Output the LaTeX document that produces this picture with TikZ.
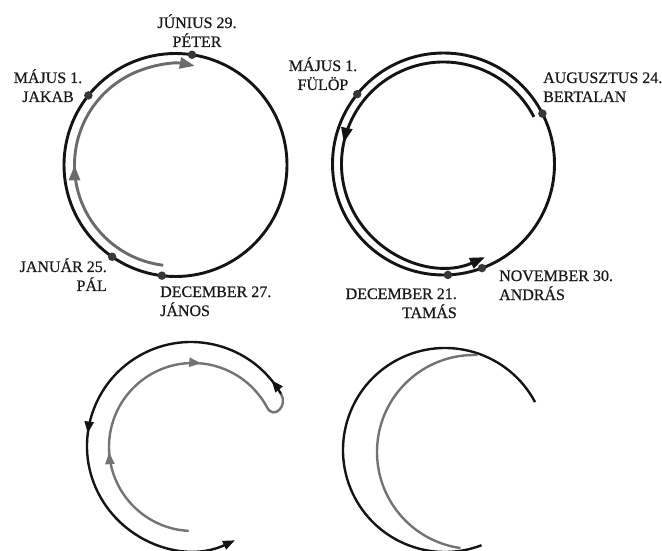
\documentclass[tikz,border=0pt]{standalone}
\usepackage{fontspec}
\setmainfont{Liberation Serif}
\newfontfamily\lblfont{Liberation Serif}[FakeBold=0.6]
\usetikzlibrary{arrows.meta, decorations.markings}

\tikzset{
    bigtip/.tip={Triangle[length=15pt,width=11pt]},
    smalltip/.tip={Triangle[length=12pt,width=9pt]},
    tipat/.style 2 args={postaction={decorate, decoration={markings, mark=at position #1 with {\arrow{#2}}}}}
}

\begin{document}
\begin{tikzpicture}[
    x=1pt, y=1pt,
    every node/.style={inner sep=0pt},
    lbl/.style={font=\lblfont\fontsize{16}{19}\selectfont, text=black!90},
    rim/.style={draw=black!92, line width=2.9pt},
    thinrim/.style={draw=black!92, line width=2.4pt},
    trail/.style={draw=black!58, line width=2.9pt},
    thintrail/.style={draw=black!55, line width=2.4pt},
    daydot/.style={circle, fill=black!78, minimum size=8.5pt}
]
\useasboundingbox (0,0) rectangle (662,550);

\coordinate (ca) at (175.5,385);
\coordinate (cb) at (443.5,386);
\coordinate (cc) at (191,104);
\coordinate (cg) at (193,103);
\coordinate (cd) at (445,100);
\coordinate (ch) at (474,98);

\draw[rim] (ca) circle[radius=111.5pt];
\draw[trail, -bigtip, tipat={0.45}{bigtip}] (ca) ++(263:101pt) arc[start angle=263, end angle=79, radius=101pt];
\path (ca) ++(81.5:111.5pt) node[daydot] (peter) {};
\path (ca) ++(141.4:111.5pt) node[daydot] (jakab) {};
\path (ca) ++(235.4:111.5pt) node[daydot] (pal) {};
\path (ca) ++(263:111.5pt) node[daydot] (janos) {};
\node[lbl, anchor=base, align=center] (peterlbl) at (197,503) {JÚNIUS 29.\\PÉTER};
\node[lbl, anchor=base, align=center] (jakablbl) at (48,448) {MÁJUS 1.\\JAKAB};
\node[lbl, anchor=base east, align=right] (pallbl) at (107,259) {JANUÁR 25.\\PÁL};
\node[lbl, anchor=base west, align=left] (janoslbl) at (160,234) {DECEMBER 27.\\JÁNOS};

\draw[rim] (cb) circle[radius=111pt];
\draw[rim, -bigtip, tipat={0.527}{bigtip}] (cb) ++(27.5:102pt) arc[start angle=27.5, end angle=294, radius=102pt];
\path (cb) ++(141:111pt) node[daydot] (fulop) {};
\path (cb) ++(27:111pt) node[daydot] (bertalan) {};
\path (cb) ++(290.3:111pt) node[daydot] (andras) {};
\path (cb) ++(272.3:111pt) node[daydot] (tamas) {};
\node[lbl, anchor=base, align=center] (fuloplbl) at (323,460) {MÁJUS 1.\\FÜLÖP};
\node[lbl, anchor=base west, align=left] (bertalanlbl) at (543,448) {AUGUSZTUS 24.\\BERTALAN};
\node[lbl, anchor=base west, align=left] (andraslbl) at (499,250) {NOVEMBER 30.\\ANDRÁS};
\node[lbl, anchor=base east, align=right] (tamaslbl) at (457,232) {DECEMBER 21.\\TAMÁS};

\path (cc) ++(30:104pt) coordinate (hook);
\draw[thintrail, tipat={0.32}{smalltip}, tipat={0.70}{smalltip}] (cg) ++(267:84pt) arc[start angle=267, end angle=28, radius=84pt] .. controls +(-62:14pt) and +(-60:14pt) .. (hook);
\draw[thinrim, -smalltip, tipat={0.035}{smalltip}, tipat={0.54}{smalltip}] (hook) arc[start angle=30, end angle=295, radius=104pt];

\draw[thinrim] (cd) ++(28:102pt) arc[start angle=28, end angle=291, radius=102pt];
\draw[thintrail] (ch) ++(88:97pt) arc[start angle=88, end angle=262, radius=97pt];
\end{tikzpicture}
\end{document}
